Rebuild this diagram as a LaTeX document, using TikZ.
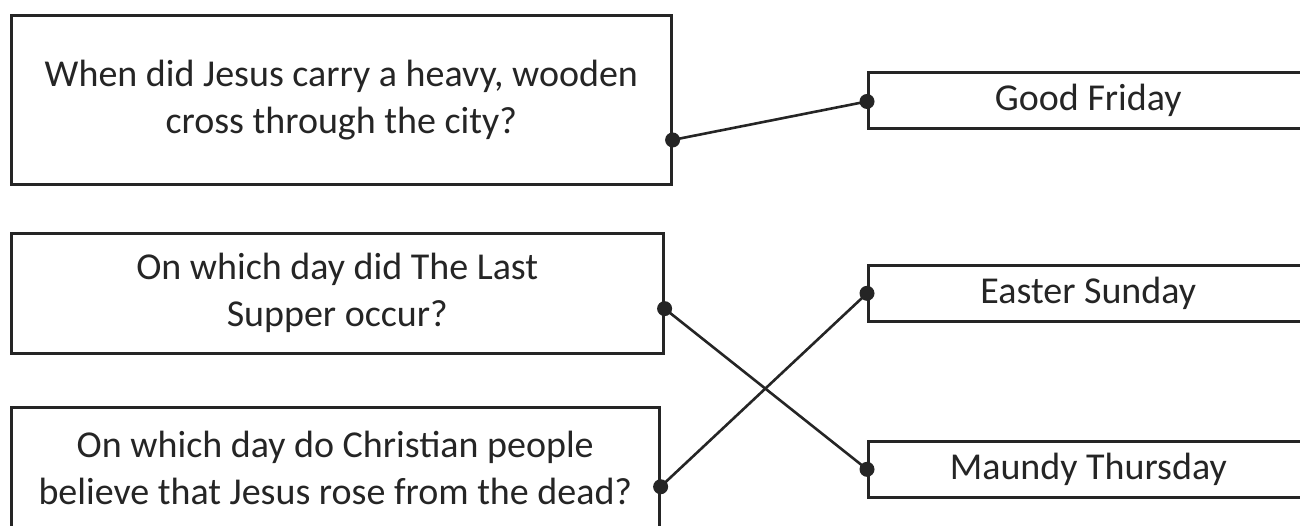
\documentclass[tikz,border=0pt]{standalone}
\usepackage{fontspec}
\setmainfont{Carlito}
\usetikzlibrary{calc}
\definecolor{ink}{HTML}{252525}
\begin{document}
\begin{tikzpicture}[x=1pt,y=-1pt,
  box/.style={draw=ink,line width=2.6pt,rectangle,inner sep=0pt,anchor=north west,
    align=center,text=ink,font=\fontsize{38}{47}\selectfont},
  link/.style={draw=ink,line width=2.6pt},
  dot/.style={fill=ink}]
\useasboundingbox (0,0) rectangle (1300,525);
\clip (0,0) rectangle (1300,525);
% question boxes
\node[box,minimum width=660pt,minimum height=169pt] (q1) at (10,14)
  {\raisebox{-6pt}{\parbox{650pt}{\centering When did Jesus carry a heavy, wooden\\cross through the city?}}};
\node[box,minimum width=652pt,minimum height=120pt] (q2) at (10,232)
  {On which day did The Last\\Supper occur?};
\node[box,minimum width=648pt,minimum height=122pt] (q3) at (10,406)
  {On which day do Christian people\\believe that Jesus rose from the dead?};
% answer boxes
\node[box,minimum width=440pt,minimum height=56pt] (a1) at (867,71) {Good Friday};
\node[box,minimum width=440pt,minimum height=56pt] (a2) at (867,264) {Easter Sunday};
\node[box,minimum width=440pt,minimum height=56pt] (a3) at (867,440) {Maundy Thursday};
% dot coordinates
\coordinate (d1) at ($(q1.north east)!0.734!(q1.south east)$);
\coordinate (d2) at ($(q2.north east)!0.625!(q2.south east)$);
\coordinate (d3) at ($(q3.north east)!0.648!(q3.south east)$);
\coordinate (e1) at ($(a1.north west)!0.52!(a1.south west)$);
\coordinate (e2) at ($(a2.north west)!0.5!(a2.south west)$);
\coordinate (e3) at ($(a3.north west)!0.5!(a3.south west)$);
% connectors
\draw[link] (d1) -- (e1);
\draw[link] (d2) -- (e3);
\draw[link] (d3) -- (e2);
\foreach \p in {d1,d2,d3,e1,e2,e3} \fill[dot] (\p) circle (7.5pt);
\end{tikzpicture}
\end{document}
